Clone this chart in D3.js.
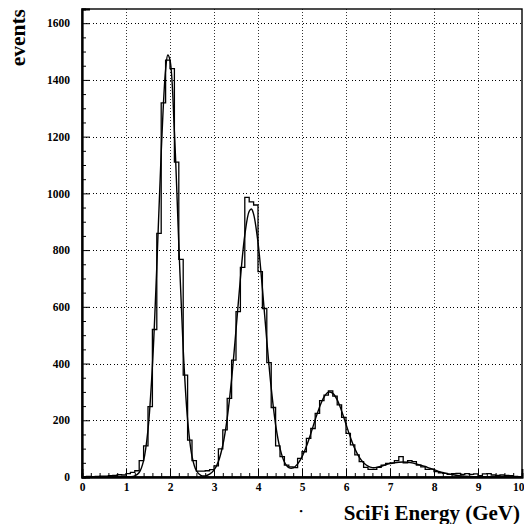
<!DOCTYPE html>
<html>
<head>
<meta charset="utf-8">
<script src="https://cdn.jsdelivr.net/npm/d3@7"></script>
<style>
  html, body { margin: 0; padding: 0; background: #fff; }
  svg { display: block; }
  text { font-family: "Liberation Serif", "Times New Roman", serif; font-weight: bold; fill: #000; }
</style>
</head>
<body>
<svg id="chart" width="524" height="524"></svg>
<script>
// Histogram: SciFi energy, 100 bins of 0.1 GeV from 0 to 10 GeV
const binStart = 0;
const binWidth = 0.1;
const binCounts = [
  1, 2, 1, 2, 3, 3, 5, 6, 8, 7,
  12, 16, 22, 58, 110, 248, 520, 859, 1319, 1470,
  1440, 1110, 767, 359, 130, 58, 21, 21, 22, 26,
  39, 99, 166, 277, 412, 583, 739, 986, 970, 959,
  724, 594, 403, 245, 110, 72, 42, 36, 33, 66,
  89, 136, 171, 224, 269, 289, 304, 285, 254, 210,
  154, 113, 78, 54, 34, 27, 27, 34, 42, 48,
  50, 58, 72, 50, 58, 54, 42, 36, 27, 28,
  19, 15, 13, 9, 12, 13, 9, 12, 9, 11,
  5, 11, 12, 7, 6, 7, 6, 5, 2, 1
];

// Fitted curve, sampled along the energy axis
const fitEnergy = [
  0, 0.5, 1.0, 1.1, 1.2, 1.3, 1.4, 1.5, 1.6, 1.7, 1.8, 1.9, 1.95, 2.0,
  2.1, 2.2, 2.3, 2.4, 2.5, 2.6, 2.7, 2.8, 2.9, 3.0, 3.1, 3.2, 3.3, 3.4,
  3.5, 3.6, 3.7, 3.8, 3.85, 3.9, 4.0, 4.1, 4.2, 4.3, 4.4, 4.5, 4.6, 4.7,
  4.8, 4.9, 5.0, 5.1, 5.2, 5.3, 5.4, 5.5, 5.6, 5.7, 5.8, 5.9, 6.0, 6.1,
  6.2, 6.3, 6.4, 6.5, 6.6, 6.7, 6.8, 6.9, 7.0, 7.1, 7.2, 7.3, 7.4, 7.5,
  7.6, 7.7, 7.8, 7.9, 8.0, 8.1, 8.2, 8.3, 8.4, 8.5, 8.6, 8.7, 8.8, 8.9,
  9.0, 9.2, 9.5, 10
];
const fitEvents = [
  0, 0, 0.1, 0.7, 4, 16, 58, 167, 390, 741, 1144, 1436, 1488, 1470,
  1217, 822, 451, 202, 73, 22, 6, 4, 10, 24, 55, 112, 207, 345,
  518, 700, 853, 937, 945, 927, 827, 665, 481, 314, 185, 101, 53, 33,
  32, 46, 71, 108, 153, 202, 247, 282, 299, 295, 272, 233, 186, 140,
  100, 70, 50, 38, 33, 34, 38, 43, 47, 50, 52, 53, 52, 50,
  46, 42, 37, 31, 26, 20, 16, 12, 9, 6, 4, 3, 2, 1.2,
  0.7, 0.2, 0, 0
];

// Axis ticks
const xMajorTicks = [0, 1, 2, 3, 4, 5, 6, 7, 8, 9, 10];
const xGridTicks = [1, 2, 3, 4, 5, 6, 7, 8, 9];
const yMajorTicks = [0, 200, 400, 600, 800, 1000, 1200, 1400, 1600];
const yGridTicks = [200, 400, 600, 800, 1000, 1200, 1400, 1600];
const xTitle = "SciFi Energy (GeV)";
const yTitle = "events";

const svg = d3.select("#chart");
const frame = { left: 82, right: 522, top: 9, bottom: 477 };

const x = d3.scaleLinear().domain([0, 10]).range([frame.left, frame.right]);
const y = d3.scaleLinear().domain([0, 1650]).range([frame.bottom, frame.top]);

// Dotted grid
const grid = svg.append("g").attr("shape-rendering", "crispEdges");
grid.selectAll("line.vg").data(xGridTicks).join("line")
  .attr("x1", d => x(d) + 0.5).attr("x2", d => x(d) + 0.5)
  .attr("y1", frame.top).attr("y2", frame.bottom)
  .attr("stroke", "#333").attr("stroke-width", 1)
  .attr("stroke-dasharray", "1,2");
grid.selectAll("line.hg").data(yGridTicks).join("line")
  .attr("x1", frame.left).attr("x2", frame.right)
  .attr("y1", d => Math.round(y(d)) + 0.5).attr("y2", d => Math.round(y(d)) + 0.5)
  .attr("stroke", "#000").attr("stroke-width", 1)
  .attr("stroke-dasharray", "1,2.5");

// Histogram outline
const histPoints = binCounts.map((c, i) => [binStart + i * binWidth, c]);
histPoints.push([binStart + binCounts.length * binWidth, binCounts[binCounts.length - 1]]);
const histLine = d3.line()
  .x(d => x(d[0])).y(d => y(d[1]))
  .curve(d3.curveStepAfter);
svg.append("path")
  .datum(histPoints)
  .attr("d", histLine)
  .attr("fill", "none")
  .attr("stroke", "#000")
  .attr("stroke-width", 1.3);

// Fit curve
const fitLine = d3.line()
  .x(d => x(d[0])).y(d => y(d[1]))
  .curve(d3.curveCatmullRom.alpha(0.5));
svg.append("path")
  .datum(fitEnergy.map((e, i) => [e, fitEvents[i]]))
  .attr("d", fitLine)
  .attr("fill", "none")
  .attr("stroke", "#000")
  .attr("stroke-width", 1.4);

// Frame
svg.append("rect")
  .attr("x", frame.left).attr("y", frame.top)
  .attr("width", frame.right - frame.left)
  .attr("height", frame.bottom - frame.top)
  .attr("fill", "none").attr("stroke", "#000").attr("stroke-width", 1.4);

// X axis: inward ticks, minor every 0.2
const xMinor = d3.range(0, 10.001, 0.2).filter(v => Math.abs(v - Math.round(v)) > 1e-6);
const xAxisMinor = svg.append("g")
  .attr("transform", `translate(0,${frame.bottom})`)
  .call(d3.axisBottom(x).tickValues(xMinor).tickSize(-4).tickFormat(""));
const xAxisMajor = svg.append("g")
  .attr("transform", `translate(0,${frame.bottom})`)
  .call(d3.axisBottom(x).tickValues(xMajorTicks).tickSize(-8).tickPadding(6).tickFormat(d3.format("d")));
// keep the last label inside the page edge
xAxisMajor.selectAll(".tick text").filter(d => d === 10).attr("text-anchor", "end").attr("dx", 2);

// Y axis: inward ticks, minor every 50
const yMinor = d3.range(50, 1650, 50).filter(v => v % 200 !== 0);
const yAxisMinor = svg.append("g")
  .attr("transform", `translate(${frame.left},0)`)
  .call(d3.axisLeft(y).tickValues(yMinor).tickSize(-4).tickFormat(""));
const yAxisMajor = svg.append("g")
  .attr("transform", `translate(${frame.left},0)`)
  .call(d3.axisLeft(y).tickValues(yMajorTicks).tickSize(-8).tickPadding(12).tickFormat(d3.format("d")));

[xAxisMinor, xAxisMajor, yAxisMinor, yAxisMajor].forEach(g => {
  g.select(".domain").attr("stroke", "#000").attr("stroke-width", 1.8);
  g.selectAll(".tick line").attr("stroke", "#000").attr("stroke-width", 1);
  g.selectAll(".tick text")
    .style("font-family", "'Liberation Serif', 'Times New Roman', serif")
    .style("font-weight", "bold")
    .style("font-size", "11.5px")
    .attr("fill", "#000");
});

// Axis titles
svg.append("text")
  .attr("x", 520).attr("y", 520)
  .attr("text-anchor", "end")
  .style("font-size", "21px")
  .text(xTitle);

svg.append("text")
  .attr("transform", "translate(25,9) rotate(-90)")
  .attr("text-anchor", "end")
  .style("font-size", "21.5px")
  .text(yTitle);

svg.append("text")
  .attr("x", 301).attr("y", 514)
  .attr("text-anchor", "middle")
  .style("font-size", "9px")
  .text("•");
</script>
</body>
</html>
